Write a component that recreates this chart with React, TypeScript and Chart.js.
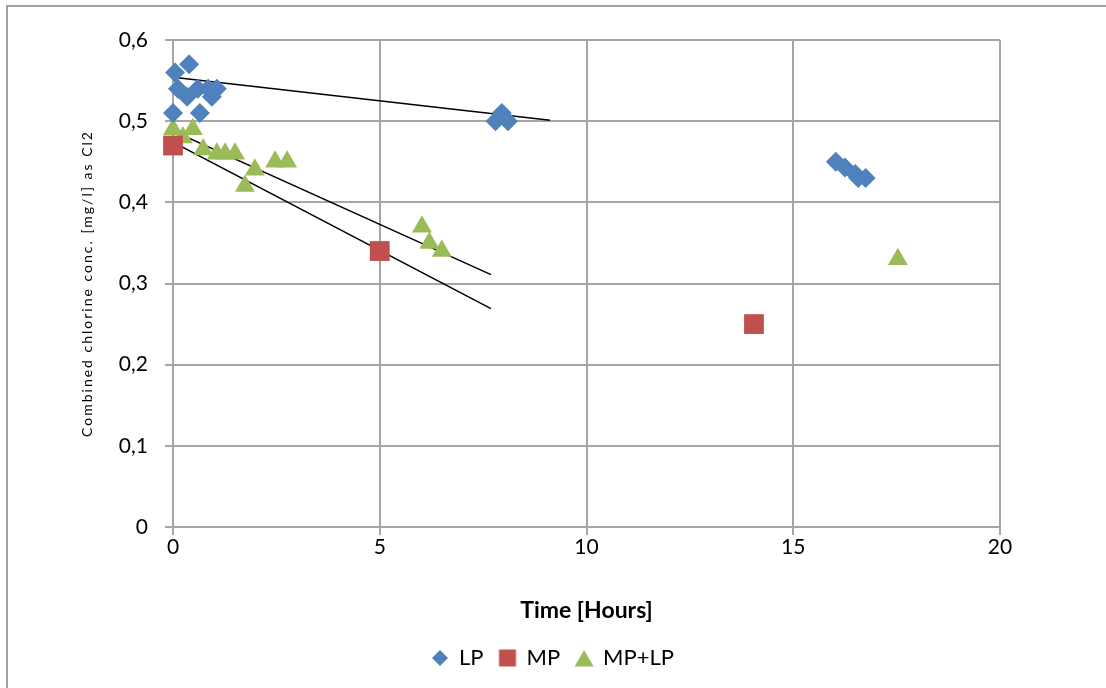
import React, { useEffect, useRef } from "react";
import { Chart, registerables } from "chart.js";

Chart.register(...registerables);

// ---- Data ----
const lpX = [0, 0.05, 0.12, 0.34, 0.39, 0.6, 0.65, 0.85, 0.94, 1.06, 7.8, 7.95, 8.1, 16.03, 16.25, 16.5, 16.57, 16.75];
const lpY = [0.51, 0.56, 0.54, 0.53, 0.57, 0.54, 0.51, 0.54, 0.53, 0.54, 0.5, 0.51, 0.5, 0.45, 0.443, 0.435, 0.43, 0.43];

const mpX = [0, 5, 14.05];
const mpY = [0.47, 0.34, 0.25];

const mplpX = [0, 0.24, 0.48, 0.73, 1.06, 1.26, 1.5, 1.74, 1.98, 2.47, 2.76, 6.02, 6.2, 6.5, 17.53];
const mplpY = [0.49, 0.48, 0.49, 0.465, 0.46, 0.46, 0.46, 0.42, 0.44, 0.45, 0.45, 0.37, 0.35, 0.34, 0.33];

// trendlines (start / end)
const trendLpX = [0, 9.12];
const trendLpY = [0.554, 0.501];
const trendAX = [0, 7.69];
const trendAY = [0.488, 0.311];
const trendBX = [0, 7.69];
const trendBY = [0.474, 0.269];

const seriesLabels = ["LP", "MP", "MP+LP"];
const xTitle = "Time [Hours]";
const yTitle = "Combined chlorine conc. [mg/l] as Cl2";

const BLUE = "#4F81BD";
const RED = "#C0504D";
const GREEN = "#9BBB59";
const GRID = "#a6a6a6";
const FONT = "Lato, 'Liberation Sans', sans-serif";

const pts = (xs: number[], ys: number[]) => xs.map((x, i) => ({ x, y: ys[i] }));

function makeIcon(kind: string, color: string): HTMLCanvasElement {
  const c = document.createElement("canvas");
  c.width = 20;
  c.height = 20;
  const g = c.getContext("2d")!;
  g.fillStyle = color;
  g.beginPath();
  if (kind === "diamond") {
    g.moveTo(10, 2);
    g.lineTo(18, 10);
    g.lineTo(10, 18);
    g.lineTo(2, 10);
  } else if (kind === "square") {
    g.rect(1.5, 1.5, 17, 17);
  } else {
    g.moveTo(10, 2);
    g.lineTo(19.5, 18.5);
    g.lineTo(0.5, 18.5);
  }
  g.closePath();
  g.fill();
  return c;
}

const yTitlePlugin = {
  id: "yTitleAndFrame",
  afterDraw(chart: any) {
    const ctx = chart.ctx;
    const area = chart.chartArea;
    ctx.save();
    ctx.strokeStyle = "#a0a0a0";
    ctx.lineWidth = 2;
    ctx.beginPath();
    ctx.moveTo(7, 720);
    ctx.lineTo(7, 6);
    ctx.lineTo(1200, 6);
    ctx.stroke();
    ctx.translate(87, (area.top + area.bottom) / 2);
    ctx.rotate(-Math.PI / 2);
    ctx.font = `14px ${FONT}`;
    (ctx as any).letterSpacing = "2px";
    ctx.fillStyle = "#000";
    ctx.textAlign = "center";
    ctx.textBaseline = "middle";
    ctx.fillText(yTitle, 0, 0);
    ctx.restore();
  },
};

export default function App() {
  const ref = useRef<HTMLCanvasElement | null>(null);

  useEffect(() => {
    if (!ref.current) return;
    const icons = [makeIcon("diamond", BLUE), makeIcon("square", RED), makeIcon("triangle", GREEN)];
    const chart = new Chart(ref.current, {
      type: "scatter",
      data: {
        datasets: [
          {
            label: seriesLabels[0],
            data: pts(lpX, lpY),
            backgroundColor: BLUE,
            borderWidth: 0,
            pointStyle: "rectRot",
            pointRadius: 10,
            pointHoverRadius: 10,
            clip: false,
          },
          {
            label: seriesLabels[1],
            data: pts(mpX, mpY),
            backgroundColor: RED,
            borderWidth: 0,
            pointStyle: "rect",
            pointRadius: 14,
            pointHoverRadius: 14,
            clip: false,
          },
          {
            label: seriesLabels[2],
            data: pts(mplpX, mplpY),
            backgroundColor: GREEN,
            borderWidth: 0,
            pointStyle: "triangle",
            pointRadius: 11.5,
            pointHoverRadius: 11.5,
            clip: false,
          },
          {
            label: "trend1",
            data: pts(trendLpX, trendLpY),
            showLine: true,
            borderColor: "#000",
            borderWidth: 1.5,
            pointRadius: 0,
          },
          {
            label: "trend2",
            data: pts(trendAX, trendAY),
            showLine: true,
            borderColor: "#000",
            borderWidth: 1.5,
            pointRadius: 0,
          },
          {
            label: "trend3",
            data: pts(trendBX, trendBY),
            showLine: true,
            borderColor: "#000",
            borderWidth: 1.5,
            pointRadius: 0,
          },
        ],
      },
      options: {
        animation: false,
        responsive: false,
        maintainAspectRatio: false,
        layout: { padding: { left: 0, right: 0, top: 40, bottom: 9 } },
        plugins: {
          tooltip: { enabled: false },
          legend: {
            position: "bottom",
            labels: {
              usePointStyle: true,
              boxWidth: 16,
              boxHeight: 16,
              padding: 16,
              color: "#000",
              font: { family: FONT, size: 22 },
              filter: (item: any) => item.datasetIndex < 3,
              generateLabels: (ch: any) =>
                ch.data.datasets.slice(0, 3).map((d: any, i: number) => ({
                  text: d.label,
                  pointStyle: icons[i],
                  fillStyle: d.backgroundColor,
                  strokeStyle: d.backgroundColor,
                  lineWidth: 0,
                  hidden: false,
                  datasetIndex: i,
                  fontColor: "#000",
                })),
            },
          },
        },
        scales: {
          x: {
            type: "linear",
            min: 0,
            max: 20,
            ticks: { stepSize: 5, color: "#000", font: { family: FONT, size: 21 }, padding: 0 },
            grid: { color: GRID, lineWidth: 2, tickLength: 8, tickColor: GRID },
            border: { color: GRID, width: 2 },
            title: {
              display: true,
              text: xTitle,
              color: "#000",
              font: { family: FONT, size: 23, weight: "bold" },
              padding: { top: 0, bottom: 7 },
            },
            afterFit: (s: any) => {
              s.height = 104;
            },
          },
          y: {
            type: "linear",
            min: 0,
            max: 0.6,
            ticks: {
              stepSize: 0.1,
              color: "#000",
              font: { family: FONT, size: 21 },
              padding: 17,
              callback: (v: any) => (Math.round(Number(v) * 10) / 10).toString().replace(".", ","),
            },
            grid: { color: GRID, lineWidth: 2, tickLength: 8, tickColor: GRID },
            border: { color: GRID, width: 2 },
            afterFit: (s: any) => {
              s.width = 173;
            },
          },
          y2: {
            type: "linear",
            position: "right",
            display: true,
            grid: { display: false, drawTicks: false },
            border: { display: false },
            ticks: { display: false },
            afterFit: (s: any) => {
              s.width = 106;
            },
          },
        },
      },
      plugins: [yTitlePlugin],
    });
    return () => chart.destroy();
  }, []);

  return (
    <div style={{ position: "fixed", left: 0, top: 0, width: 1106, height: 688, background: "#fff" }}>
      <canvas ref={ref} width={1106} height={688} style={{ display: "block", width: 1106, height: 688 }} />
    </div>
  );
}
